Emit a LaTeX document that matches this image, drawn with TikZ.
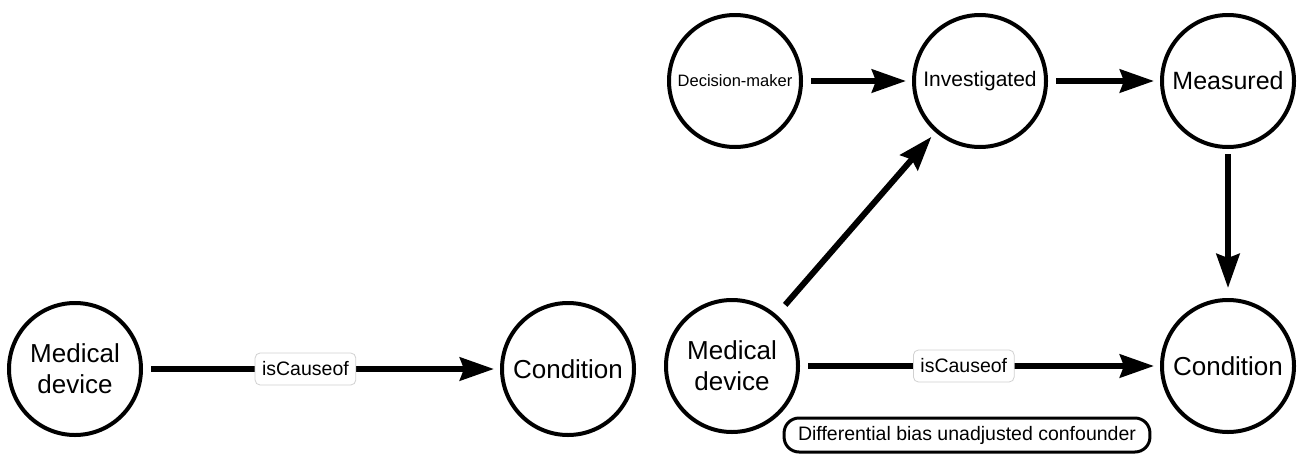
\documentclass[tikz,border=0pt]{standalone}
\usepackage{fontspec}
\setsansfont{Liberation Sans}
\usepackage{tikz}
\usetikzlibrary{positioning}
\usetikzlibrary{shapes,calc,arrows.meta}

\begin{document}
\begin{tikzpicture}[x=1pt,y=-1pt,>={Stealth[length=34pt,width=23pt,inset=4pt]},node distance=245pt,
  var node/.style={circle,draw,line width=4pt,minimum size=132pt,inner sep=0pt,align=center,
    font=\sffamily\fontsize{26}{31}\selectfont},
  dag edge/.style={->,line width=6pt,shorten >=6pt,shorten <=8pt},
  edge label/.style={fill=white,draw=black!18,line width=0.8pt,rounded corners=5pt,
    minimum height=32pt,inner xsep=7pt,font=\sffamily\fontsize{19.5}{22}\selectfont},
  note node/.style={draw,line width=3pt,rounded corners=15pt,minimum height=34pt,
    inner xsep=14pt,font=\sffamily\fontsize{19.5}{22}\selectfont}]
  \useasboundingbox (0,0) rectangle (1304,453);

  % simple model
  \node[var node] (md1) at (75,369) {Medical\\device};
  \node[var node] (cond1) [right of=md1, node distance=493pt] {Condition};
  \draw[dag edge] (md1) -- node[edge label,pos=0.455] {isCauseof} (cond1);

  % with confounder
  \node[var node,font=\sffamily\fontsize{16.5}{19}\selectfont] (dm) at (735,81) {Decision-maker};
  \node[var node,font=\sffamily\fontsize{21}{24}\selectfont] (inv) [right of=dm] {Investigated};
  \node[var node,font=\sffamily\fontsize{25}{28}\selectfont] (meas) [right of=inv, node distance=248pt] {Measured};
  \node[var node] (md2) at (732,366) {Medical\\device};
  \node[var node] (cond2) [below of=meas, node distance=285pt] {Condition};
  \node[note node] (note) at (967,435) {Differential bias unadjusted confounder};

  \draw[dag edge] (dm) -- (inv);
  \draw[dag edge] (inv) -- (meas);
  \draw[dag edge,shorten <=5pt,shorten >=10pt] (meas) -- (cond2);
  \draw[dag edge,shorten <=13pt] (md2) -- (inv);
  \draw[dag edge] (md2) -- node[edge label,pos=0.455] {isCauseof} (cond2);
\end{tikzpicture}
\end{document}
